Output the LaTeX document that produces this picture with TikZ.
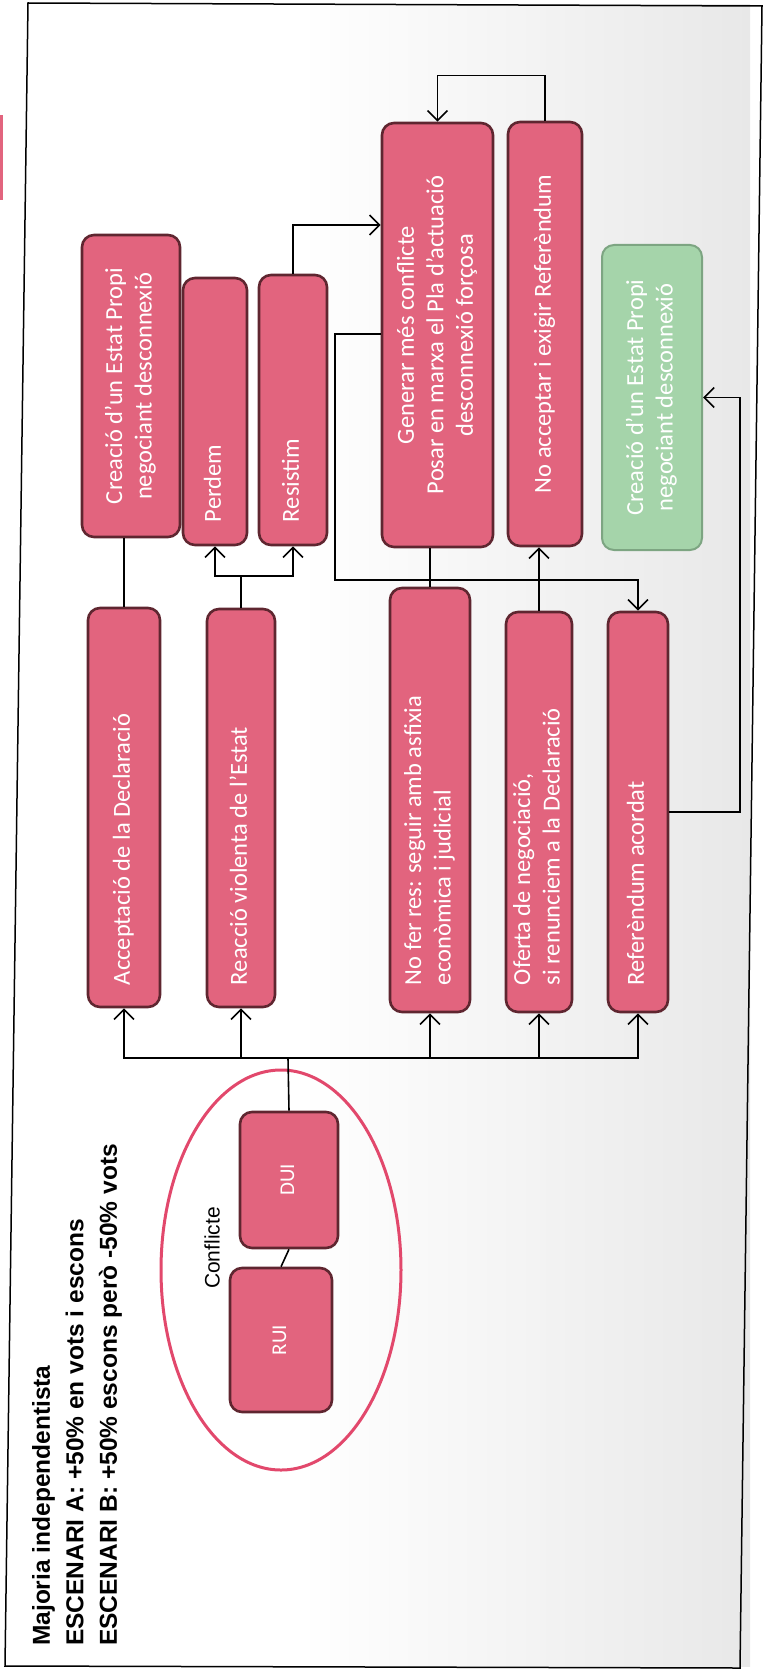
\documentclass[tikz,border=0pt]{standalone}
\usepackage{fontspec}
\usepackage{graphicx}
\usetikzlibrary{arrows.meta,calc,shapes.geometric}
\newfontfamily\carfont{Carlito}
\newfontfamily\arfont{Liberation Sans}
\definecolor{boxpink}{RGB}{226,100,126}
\definecolor{boxedge}{RGB}{95,38,48}
\definecolor{boxgreen}{RGB}{165,212,170}
\definecolor{greenedge}{RGB}{125,165,130}
\definecolor{ellred}{RGB}{226,72,108}
\newcommand\vleft[2]{\rotatebox{90}{\makebox[#1][l]{\begin{tabular}{@{}l@{}}#2\end{tabular}}}}
\newcommand\vcent[1]{\rotatebox{90}{\begin{tabular}{@{}c@{}}#1\end{tabular}}}
\begin{document}
\begin{tikzpicture}[x=1pt,y=1pt,
  bx/.style={draw=boxedge, fill=boxpink, line width=2.6pt, rounded corners=12pt, inner sep=0pt, text=white, font=\carfont\fontsize{24.5}{29.5}\selectfont},
  gbx/.style={bx, draw=greenedge, fill=boxgreen, line width=2pt},
  con/.style={line width=1.6pt, draw=black},
  arr/.style={con, -{Straight Barb[length=10pt,width=20pt]}},
]
\useasboundingbox (0,0) rectangle (763,-1680);
% background and frame
\shade[left color=white, right color=black!9] (300,-5) rectangle (750,-1666);
\fill[boxpink] (0,-115) rectangle (3,-200);
\draw[line width=1.5pt] (28,-3) -- (762,-6) -- (740,-1668) -- (5,-1666) -- cycle;

% title
\node[rotate=90, anchor=north west, align=left, inner sep=0pt, font=\arfont\bfseries\fontsize{24.5}{33.5}\selectfont] (title) at (32,-1646)
  {Majoria independentista\\ESCENARI A: +50\% en vots i escons\\ESCENARI B: +50\% escons però -50\% vots};

% conflict group
\node[draw=ellred, line width=3pt, ellipse, minimum width=240pt, minimum height=400pt] (ell) at (281,-1270) {};
\node[rotate=90, font=\arfont\fontsize{21}{25}\selectfont] (conf) at (212,-1248) {Conflicte};
\node[bx, minimum width=98pt, minimum height=136pt, font=\carfont\fontsize{21}{25}\selectfont] (dui) at (289,-1180) {\vcent{DUI}};
\node[bx, minimum width=102pt, minimum height=144pt, font=\carfont\fontsize{21}{25}\selectfont] (rui) at (281,-1340) {\vcent{RUI}};

% lower row
\node[bx, minimum width=72pt, minimum height=399pt] (acc) at (124,-807.5) {\vleft{355pt}{Acceptació de la Declaració}};
\node[bx, minimum width=68pt, minimum height=398pt] (rea) at (241,-808) {\vleft{354pt}{Reacció violenta de l’Estat}};
\node[bx, minimum width=80pt, minimum height=424pt] (nof) at (430,-800) {\vleft{370pt}{No fer res: seguir amb asfixia\\econòmica i judicial}};
\node[bx, minimum width=66pt, minimum height=400pt] (ofe) at (539,-812) {\vleft{346pt}{Oferta de negociació,\\si renunciem a la Declaració}};
\node[bx, minimum width=60pt, minimum height=400pt] (ref) at (638,-812) {\vleft{346pt}{Referèndum acordat}};

% upper row
\node[bx, minimum width=98pt, minimum height=302pt] (crea) at (131,-386) {\vcent{Creació d’un Estat Propi\\negociant desconnexió}};
\node[bx, minimum width=64pt, minimum height=267pt] (perd) at (215,-411.5) {\vleft{221pt}{Perdem}};
\node[bx, minimum width=68pt, minimum height=270pt] (res) at (293,-410) {\vleft{224pt}{Resistim}};
\node[bx, minimum width=111pt, minimum height=424pt] (gen) at (437.5,-335) {\vcent{Generar més conflicte\\Posar en marxa el Pla d’actuació\\desconnexió forçosa}};
\node[bx, minimum width=74pt, minimum height=424pt] (noa) at (545,-334) {\vcent{No acceptar i exigir Referèndum}};
\node[gbx, minimum width=100pt, minimum height=305pt] (grn) at (652,-397.5) {\vcent{Creació d’un Estat Propi\\negociant desconnexió}};

% connectors
\coordinate (bus) at (288,-1058);
\draw[con] (rui.north) -- (dui.south);
\draw[con] (dui.north) -- (bus);
\foreach \t in {acc,rea,nof,ofe,ref} \draw[arr] (bus) -| (\t.south);
\draw[con] (acc.north) -- (acc.north |- crea.south);
\foreach \t in {perd,res} \draw[arr] (rea.north) -- ++(0,32) -| (\t.south);
\draw[arr] (res.north) |- (gen.west |- 0,-225);
\draw[arr] (gen.west |- 0,-334) -| (335,-580) -| (ref.north);
\draw[con] (nof.north) -- (nof.north |- gen.south);
\draw[arr] (ofe.north) -- (ofe.north |- noa.south);
\draw[arr] (noa.north) -- ++(0,45) -| (gen.north);
\draw[arr] (ref.east) -- (740,-812) |- (grn.east);
\end{tikzpicture}
\end{document}
